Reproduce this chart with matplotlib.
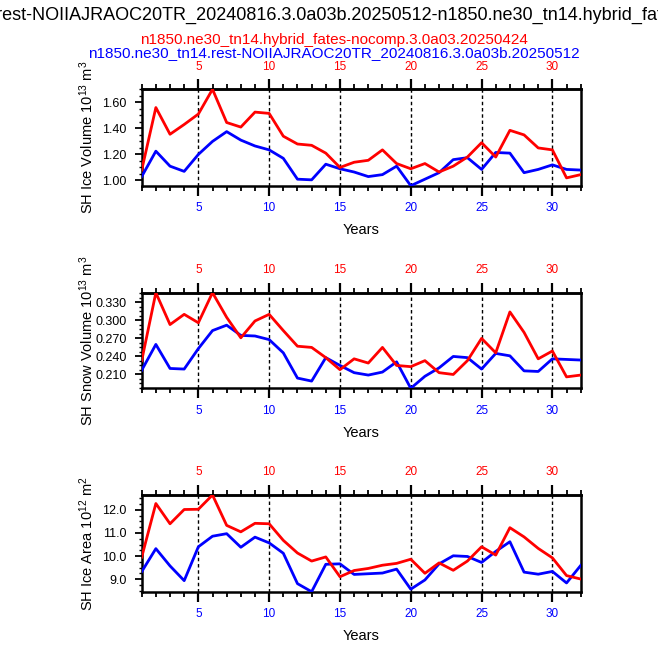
import matplotlib
matplotlib.use('Agg')
import matplotlib.pyplot as plt
from matplotlib.ticker import MultipleLocator, AutoMinorLocator, FormatStrFormatter
import numpy as np

plt.rcParams['font.family'] = ['Liberation Sans', 'DejaVu Sans']
plt.rcParams['mathtext.default'] = 'regular'

# cases
case_red = 'n1850.ne30_tn14.hybrid_fates-nocomp.3.0a03.20250424'
case_blue = 'n1850.ne30_tn14.rest-NOIIAJRAOC20TR_20240816.3.0a03b.20250512'
title_str = case_blue + '-' + case_red

years = np.arange(1, 33)

# SH ice volume (1e13 m3)
ice_vol_red = [1.08, 1.56, 1.355, 1.43, 1.51, 1.70, 1.445, 1.41, 1.525, 1.515,
               1.34, 1.28, 1.27, 1.21, 1.10, 1.14, 1.155, 1.235, 1.13, 1.09,
               1.13, 1.065, 1.11, 1.18, 1.29, 1.18, 1.385, 1.35, 1.25, 1.235,
               1.02, 1.045]
ice_vol_blue = [1.03, 1.225, 1.11, 1.07, 1.20, 1.30, 1.375, 1.31, 1.265, 1.235,
                1.17, 1.01, 1.005, 1.125, 1.09, 1.065, 1.03, 1.045, 1.11, 0.96,
                1.01, 1.06, 1.16, 1.175, 1.085, 1.215, 1.21, 1.06, 1.085, 1.12,
                1.085, 1.08]

# SH snow volume (1e13 m3)
snow_vol_red = [0.233, 0.346, 0.293, 0.310, 0.296, 0.346, 0.305, 0.271, 0.299, 0.310,
                0.283, 0.257, 0.255, 0.238, 0.218, 0.236, 0.229, 0.255, 0.225, 0.223,
                0.233, 0.213, 0.210, 0.233, 0.270, 0.246, 0.314, 0.280, 0.236, 0.249,
                0.206, 0.209]
snow_vol_blue = [0.217, 0.260, 0.220, 0.219, 0.253, 0.283, 0.292, 0.275, 0.274, 0.268,
                 0.246, 0.204, 0.199, 0.238, 0.225, 0.213, 0.209, 0.214, 0.231, 0.187,
                 0.207, 0.221, 0.240, 0.238, 0.219, 0.245, 0.241, 0.216, 0.215, 0.236,
                 0.235, 0.234]

# SH ice area (1e12 m2)
ice_area_red = [9.95, 12.28, 11.40, 12.02, 12.03, 12.65, 11.33, 11.05, 11.42, 11.40,
                10.68, 10.13, 9.78, 9.96, 9.10, 9.37, 9.46, 9.60, 9.68, 9.86,
                9.25, 9.70, 9.38, 9.78, 10.40, 10.04, 11.23, 10.83, 10.33, 9.92,
                9.15, 9.00]
ice_area_blue = [9.32, 10.32, 9.57, 8.93, 10.40, 10.86, 10.97, 10.38, 10.82, 10.57,
                 10.12, 8.80, 8.45, 9.64, 9.66, 9.20, 9.23, 9.26, 9.43, 8.56,
                 8.96, 9.66, 10.01, 9.98, 9.72, 10.20, 10.62, 9.30, 9.21, 9.33,
                 8.83, 9.59]

panels = [
    (ice_vol_red, ice_vol_blue, 'SH Ice Volume 10$^{13}$ m$^3$', 0.2, '%.2f'),
    (snow_vol_red, snow_vol_blue, 'SH Snow Volume 10$^{13}$ m$^3$', 0.03, '%.3f'),
    (ice_area_red, ice_area_blue, 'SH Ice Area 10$^{12}$ m$^2$', 1.0, '%.1f'),
]

W, H = 658, 647
fig = plt.figure(figsize=(W / 100, H / 100), dpi=100)

left = 141.7 / W
width = 439.0 / W
boxes = [(89.3, 185.7), (292.7, 388.3), (495.0, 591.7)]

for (red, blue, ylab, step, fmt), (top, bot) in zip(panels, boxes):
    ax = fig.add_axes([left, 1 - bot / H, width, (bot - top) / H])
    for xv in range(5, 31, 5):
        ax.axvline(xv, color='k', lw=1.0, ls=(0, (2.5, 2)), zorder=1)
    ax.plot(years, blue, color='#0000ff', lw=2.0, zorder=3)
    ax.plot(years, red, color='#ff0000', lw=2.0, zorder=4)
    ax.set_xlim(1, 32)
    ax.set_ylim(min(min(red), min(blue)), max(max(red), max(blue)))

    ax.xaxis.set_major_locator(MultipleLocator(5))
    ax.xaxis.set_minor_locator(MultipleLocator(1))
    ax.yaxis.set_major_locator(MultipleLocator(step))
    ax.yaxis.set_minor_locator(AutoMinorLocator(4))
    ax.yaxis.set_major_formatter(FormatStrFormatter(fmt))

    ax.tick_params(axis='x', which='major', direction='out', length=7, width=1.6,
                   labelsize=8.5, labelcolor='#0000ff', pad=5)
    ax.tick_params(axis='x', which='minor', direction='out', length=3.5, width=1.3)
    ax.tick_params(axis='y', which='major', direction='out', length=5, width=1.3,
                   labelsize=9, pad=6)
    ax.tick_params(axis='y', which='minor', direction='out', length=2.5, width=1.0)
    ax.tick_params(right=False, which='both')
    for sp in ax.spines.values():
        sp.set_linewidth(1.8)

    sec = ax.secondary_xaxis('top')
    sec.xaxis.set_major_locator(MultipleLocator(5))
    sec.xaxis.set_minor_locator(MultipleLocator(1))
    sec.tick_params(axis='x', which='major', direction='out', length=7, width=1.6,
                    labelsize=8.5, labelcolor='#ff0000', pad=5)
    sec.tick_params(axis='x', which='minor', direction='out', length=3.5, width=1.3)
    sec.spines['top'].set_linewidth(1.8)

    ax.set_xlabel('Years', fontsize=10.5)
    ax.xaxis.set_label_coords(0.5, -0.39)
    ax.set_ylabel(ylab, fontsize=10.5)
    ax.yaxis.set_label_coords(-0.104, 0.5)

# case names above the first panel
fig.text(334 / W, 1 - 40 / H, case_red, color='#ff0000', fontsize=11,
         ha='center', va='center')
fig.text(334 / W, 1 - 53 / H, case_blue, color='#0000ff', fontsize=11,
         ha='center', va='center')

# main title, wider than the figure; placed so that "rest-" starts at the left edge
fig.canvas.draw()
renderer = fig.canvas.get_renderer()
prefix = fig.text(0, 0, 'n1850.ne30_tn14.', fontsize=13)
pw = prefix.get_window_extent(renderer).width
prefix.remove()
fig.text((-3 - pw) / W, 1 - 15 / H, title_str, fontsize=13, ha='left', va='center')

fig.savefig('out.png', dpi=100)
